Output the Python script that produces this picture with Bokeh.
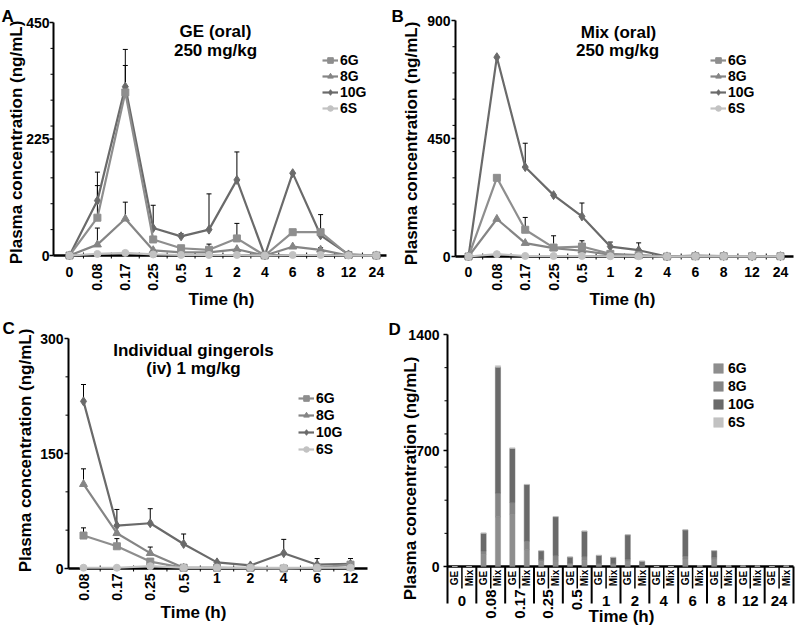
import math
from bokeh.plotting import figure
from bokeh.layouts import row, column
from bokeh.models import Range1d, Label, Legend, LegendItem, ColumnDataSource
from bokeh.embed import file_html
from bokeh.resources import INLINE

FONT = "Liberation Sans"

# ---------------- data ----------------
series = ["6G", "8G", "10G", "6S"]
colors = {"6G": "#8e8e8e", "8G": "#858585", "10G": "#6a6a6a", "6S": "#c2c2c2"}
markers = {"6G": "square", "8G": "triangle", "10G": "diamond", "6S": "circle"}
msize = {"6G": 7, "8G": 8, "10G": 9, "6S": 7}

time_oral = ["0", "0.08", "0.17", "0.25", "0.5", "1", "2", "4", "6", "8", "12", "24"]
time_iv = ["0.08", "0.17", "0.25", "0.5", "1", "2", "4", "6", "12"]

# A: GE (oral) 250 mg/kg
ge_6g = [0, 73, 315, 31, 14, 11, 33, 0, 45, 45, 1, 0]
ge_8g = [0, 21, 71, 10, 6, 6, 12, 0, 17, 11, 0, 0]
ge_10g = [0, 106, 326, 53, 37, 50, 146, 0, 159, 39, 2, 0]
ge_6s = [0, 3, 5, 2, 1, 1, 1, 0, 1, 1, 0, 0]
ge_6g_err = [0, 62, 52, 0, 0, 11, 29, 0, 0, 0, 0, 0]
ge_8g_err = [0, 32, 32, 0, 0, 0, 0, 0, 0, 4, 0, 0]
ge_10g_err = [0, 55, 72, 44, 5, 69, 54, 0, 0, 40, 0, 0]
ge_6s_err = [0] * 12

# B: Mix (oral) 250 mg/kg
mix_6g = [0, 300, 102, 34, 38, 10, 5, 0, 1, 1, 1, 1]
mix_8g = [0, 143, 51, 32, 22, 7, 3, 0, 0, 0, 0, 0]
mix_10g = [0, 760, 341, 234, 153, 38, 24, 0, 3, 2, 1, 1]
mix_6s = [0, 9, 2, 2, 2, 1, 1, 0, 1, 1, 1, 1]
mix_6g_err = [0, 0, 47, 45, 22, 0, 0, 0, 0, 0, 0, 0]
mix_8g_err = [0] * 12
mix_10g_err = [0, 0, 91, 0, 51, 17, 28, 0, 5, 0, 0, 0]
mix_6s_err = [0] * 12

# C: Individual gingerols (iv) 1 mg/kg
iv_6g = [43, 29, 9, 1, 1, 1, 0, 1, 5]
iv_8g = [110, 46, 20, 1, 1, 0, 0, 1, 1]
iv_10g = [218, 56, 59, 32, 8, 4, 20, 5, 6]
iv_6s = [1, 1, 3, 1, 1, 1, 1, 1, 1]
iv_6g_err = [10, 10, 0, 0, 0, 0, 0, 0, 0]
iv_8g_err = [20, 0, 8, 0, 0, 0, 0, 0, 0]
iv_10g_err = [22, 21, 19, 13, 0, 0, 18, 8, 7]
iv_6s_err = [0] * 9

# y axis ticks
yt_A, ym_A = [0, 225, 450], [50, 100, 150, 200, 250, 300, 350, 400]
yt_B, ym_B = [0, 450, 900], [100, 200, 300, 400, 500, 600, 700, 800]
yt_C, ym_C = [0, 150, 300], [50, 100, 200, 250]
yt_D, ym_D = [0, 700, 1400], [200, 400, 600, 800, 1000, 1200]

groups_d = ["GE", "Mix"]
YTITLE = "Plasma concentration (ng/mL)"


# ---------------- helpers ----------------
def setup(origin, W, H, x0px, dx, py0, ppu):
    ox, oy = origin

    def fx(px):
        return (px - x0px) / dx

    def fy(py):
        return (py0 - py) / ppu
    p = figure(width=W, height=H, output_backend="svg", toolbar_location=None,
               x_range=Range1d(fx(ox), fx(ox + W)), y_range=Range1d(fy(oy + H), fy(oy)),
               x_axis_location=None, y_axis_location=None,
               min_border_left=0, min_border_right=0, min_border_top=0, min_border_bottom=0)
    p.outline_line_color = None
    p.grid.visible = False
    p.background_fill_color = "white"
    p.border_fill_color = "white"
    return p, fx, fy


def text(p, x, y, s, size, align="center", baseline="middle", angle=0.0):
    p.add_layout(Label(x=x, y=y, text=s, text_font=FONT, text_font_style="bold",
                       text_font_size=f"{size}px", text_align=align,
                       text_baseline=baseline, angle=angle, text_color="black"))


def draw_yaxis(p, fx, fy, L, ybottom, ymax, ticks, minor, label_right_px):
    p.segment(x0=[fx(L)], y0=[ybottom], x1=[fx(L)], y1=[ymax], line_color="black", line_width=2)
    p.segment(x0=[fx(L - 4)] * len(ticks), y0=ticks, x1=[fx(L)] * len(ticks), y1=ticks,
              line_color="black", line_width=1.5)
    p.segment(x0=[fx(L - 3)] * len(minor), y0=minor, x1=[fx(L)] * len(minor), y1=minor,
              line_color="black", line_width=1)
    for t in ticks:
        text(p, fx(label_right_px), t, str(t), 14, align="right")


def draw_xaxis(p, fx, fy, L, R, py0, boundaries):
    p.segment(x0=[fx(L)], y0=[0], x1=[fx(R)], y1=[0], line_color="black", line_width=2.5)
    if boundaries:
        n = len(boundaries)
        p.segment(x0=boundaries, y0=[fy(py0 - 3)] * n, x1=boundaries, y1=[fy(py0 + 3)] * n,
                  line_color="black", line_width=1)


def line_panel(p, labels, vals, errs):
    xs = list(range(len(labels)))
    rends = {}
    for name in series:
        ex, ey0, ey1 = [], [], []
        for i in xs:
            if errs[name][i] > 0:
                ex.append(i)
                ey0.append(vals[name][i])
                ey1.append(vals[name][i] + errs[name][i])
        if ex:
            p.segment(x0=ex, y0=ey0, x1=ex, y1=ey1, line_color="black", line_width=1)
            p.scatter(x=ex, y=ey1, marker="dash", size=5, line_color="black", line_width=1)
    for name in ["10G", "8G", "6G", "6S"]:
        lr = p.line(xs, vals[name], line_color=colors[name], line_width=2.2)
        sr = p.scatter(xs, vals[name], marker=markers[name], size=msize[name],
                       fill_color=colors[name], line_color=colors[name])
        rends[name] = [lr, sr]
    return rends


def add_legend(p, origin, H, items, left_px, top_px, spacing, gw, gh, standoff, row_h=16):
    ox, oy = origin
    n = len(items)
    height = n * row_h + (n - 1) * spacing
    leg = Legend(items=items, location=(left_px - ox, (oy + H) - (top_px + height)),
                 orientation="vertical", glyph_width=gw, glyph_height=gh,
                 label_height=gh, label_width=10, spacing=spacing, padding=0, margin=0,
                 border_line_color=None, background_fill_alpha=0,
                 label_text_font=FONT, label_text_font_style="bold",
                 label_text_font_size="14px", label_standoff=standoff,
                 label_text_color="black")
    p.add_layout(leg)


def xtick_labels(p, fy, labels, xs, py_center, py_top, size=14):
    for x, s in zip(xs, labels):
        if "." in s:
            text(p, x, fy(py_top), s, size, align="right", baseline="middle", angle=math.pi / 2)
        else:
            text(p, x, fy(py_center), s, size)


SPLIT_X, SPLIT_Y, TOTAL_W, TOTAL_H = 387, 310, 796, 626

# ---------------- Panel A ----------------
oA, WA, HA = (0, 0), SPLIT_X, SPLIT_Y
pA, fxA, fyA = setup(oA, WA, HA, 69, 27.9, 255, 233 / 450)
draw_yaxis(pA, fxA, fyA, 53, 0, 450, yt_A, ym_A, 49)
draw_xaxis(pA, fxA, fyA, 53, 386, 255, [i + 0.5 for i in range(len(time_oral) - 1)])
rA = line_panel(pA, time_oral,
                {"6G": ge_6g, "8G": ge_8g, "10G": ge_10g, "6S": ge_6s},
                {"6G": ge_6g_err, "8G": ge_8g_err, "10G": ge_10g_err, "6S": ge_6s_err})
add_legend(pA, oA, HA, [LegendItem(label=s, renderers=rA[s]) for s in series], 322, 52, 0, 16, 14, 2)
text(pA, fxA(215), fyA(31), "GE (oral)", 17)
text(pA, fxA(215), fyA(50), "250 mg/kg", 17)
text(pA, fxA(1), fyA(16), "A", 17, align="left")
text(pA, fxA(15.5), fyA(142), YTITLE, 17, angle=math.pi / 2)
xtick_labels(pA, fyA, time_oral, range(len(time_oral)), 271, 263)
text(pA, fxA(221), fyA(299), "Time (h)", 17)

# ---------------- Panel B ----------------
oB, WB, HB = (SPLIT_X, 0), TOTAL_W - SPLIT_X, SPLIT_Y
pB, fxB, fyB = setup(oB, WB, HB, 468, 28.36, 256, 236 / 900)
draw_yaxis(pB, fxB, fyB, 455, 0, 900, yt_B, ym_B, 450)
draw_xaxis(pB, fxB, fyB, 455, 793, 256, [i + 0.5 for i in range(len(time_oral) - 1)])
rB = line_panel(pB, time_oral,
                {"6G": mix_6g, "8G": mix_8g, "10G": mix_10g, "6S": mix_6s},
                {"6G": mix_6g_err, "8G": mix_8g_err, "10G": mix_10g_err, "6S": mix_6s_err})
add_legend(pB, oB, HB, [LegendItem(label=s, renderers=rB[s]) for s in series], 710, 52, 0, 16, 14, 2)
text(pB, fxB(618), fyB(32), "Mix (oral)", 17)
text(pB, fxB(617), fyB(50), "250 mg/kg", 17)
text(pB, fxB(391), fyB(16), "B", 17, align="left")
text(pB, fxB(410.5), fyB(143), YTITLE, 17, angle=math.pi / 2)
xtick_labels(pB, fyB, time_oral, range(len(time_oral)), 271, 263)
text(pB, fxB(622), fyB(299), "Time (h)", 17)

# ---------------- Panel C ----------------
oC, WC, HC = (0, SPLIT_Y), SPLIT_X, TOTAL_H - SPLIT_Y
pC, fxC, fyC = setup(oC, WC, HC, 83, 33.375, 568, 230 / 300)
draw_yaxis(pC, fxC, fyC, 68, 0, 300, yt_C, ym_C, 63)
draw_xaxis(pC, fxC, fyC, 68, 367, 568, [i + 0.5 for i in range(len(time_iv) - 1)])
rC = line_panel(pC, time_iv,
                {"6G": iv_6g, "8G": iv_8g, "10G": iv_10g, "6S": iv_6s},
                {"6G": iv_6g_err, "8G": iv_8g_err, "10G": iv_10g_err, "6S": iv_6s_err})
add_legend(pC, oC, HC, [LegendItem(label=s, renderers=rC[s]) for s in series], 298, 390, 1, 16, 14, 2)
text(pC, fxC(193), fyC(350), "Individual gingerols", 17)
text(pC, fxC(193), fyC(368), "(iv) 1 mg/kg", 17)
text(pC, fxC(2), fyC(328), "C", 17, align="left")
text(pC, fxC(25), fyC(450), YTITLE, 17, angle=math.pi / 2)
xtick_labels(pC, fyC, time_iv, range(len(time_iv)), 577, 573)
text(pC, fxC(193), fyC(612), "Time (h)", 17)

# ---------------- Panel D ----------------
oD, WD, HD = (SPLIT_X, SPLIT_Y), TOTAL_W - SPLIT_X, TOTAL_H - SPLIT_Y
nslot = 2 * len(time_oral)
DL, DR = 447, 793
slot_w = (DR - DL) / nslot
pD, fxD, fyD = setup(oD, WD, HD, DL + slot_w / 2, slot_w, 566, 232 / 1400)
draw_yaxis(pD, fxD, fyD, DL, fyD(603), 1400, yt_D, ym_D, 439)
draw_xaxis(pD, fxD, fyD, DL, DR, 566, [])

slot_x, stack = [], {s: [] for s in series}
ge_vals = {"6G": ge_6g, "8G": ge_8g, "10G": ge_10g, "6S": ge_6s}
mix_vals = {"6G": mix_6g, "8G": mix_8g, "10G": mix_10g, "6S": mix_6s}
for i in range(len(time_oral)):
    for g, src in zip(groups_d, (ge_vals, mix_vals)):
        slot_x.append(2 * i + groups_d.index(g))
        for s in series:
            stack[s].append(src[s][i])
srcD = ColumnDataSource(dict(x=slot_x, **stack))
bars = pD.vbar_stack(series, x="x", width=0.36, source=srcD,
                     fill_color=[colors[s] for s in series],
                     line_color=[colors[s] for s in series], line_width=0.5)
add_legend(pD, oD, HD, [LegendItem(label=s, renderers=[r]) for s, r in zip(series, bars)],
           712, 360, 2, 12, 12, 4)

# separators under the axis
short_x = [k + 0.5 for k in range(nslot - 1) if k % 2 == 0]
long_x = [k - 0.5 for k in range(2, nslot + 1, 2)]
pD.segment(x0=short_x, y0=[0] * len(short_x), x1=short_x, y1=[fyD(588)] * len(short_x),
           line_color="black", line_width=1.5)
pD.segment(x0=long_x, y0=[0] * len(long_x), x1=long_x, y1=[fyD(603)] * len(long_x),
           line_color="black", line_width=2)
for k in range(nslot):
    text(pD, k, fyD(577.5), groups_d[k % 2], 10, angle=math.pi / 2)
xtick_labels(pD, fyD, time_oral, [2 * i + 0.5 for i in range(len(time_oral))], 600, 589, size=15)
text(pD, fxD(388), fyD(329), "D", 17, align="left")
text(pD, fxD(410), fyD(478), YTITLE, 17, angle=math.pi / 2)
text(pD, fxD(621), fyD(616), "Time (h)", 17)

layout = column(row(pA, pB), row(pC, pD))
open("out.html", "w").write(file_html(layout, INLINE))
